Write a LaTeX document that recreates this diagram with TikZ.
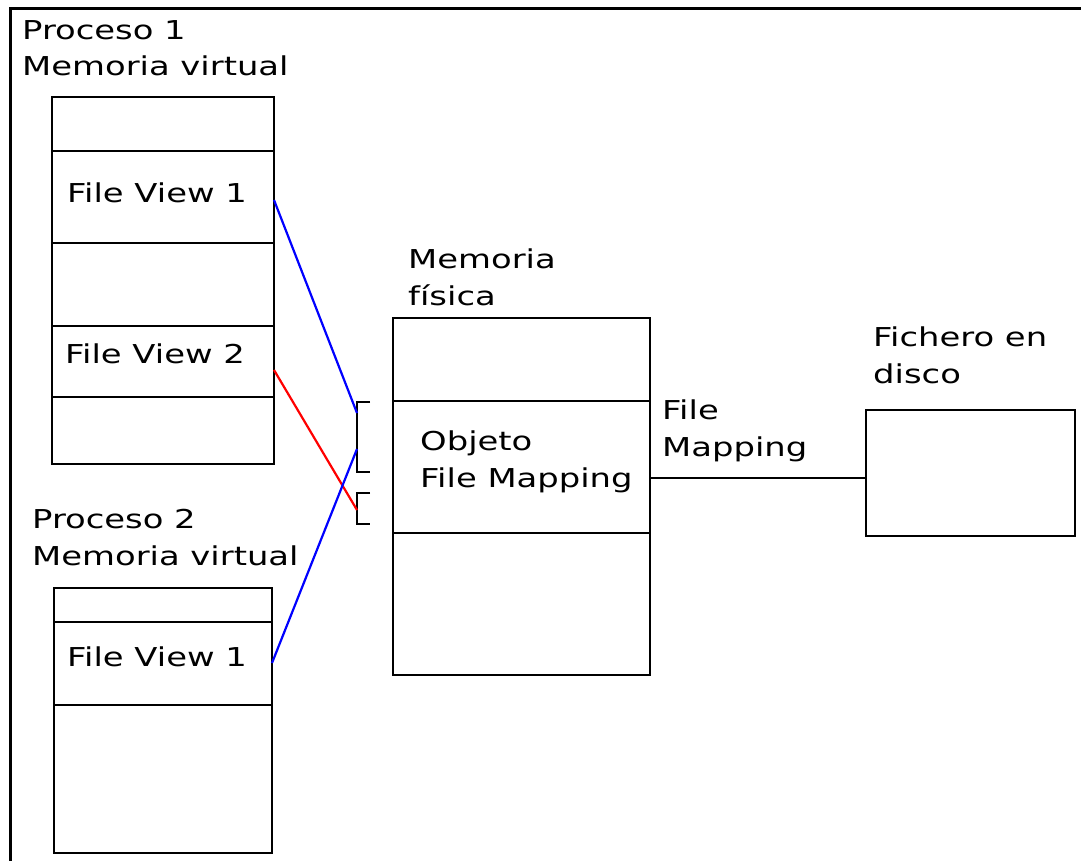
\documentclass[tikz,border=0pt]{standalone}
\usepackage{fontspec}
\setmainfont[FakeStretch=1.3]{DejaVu Sans}
\begin{document}
\begin{tikzpicture}[x=1pt,y=-1pt,
  seg/.style={draw=black,line width=2.4pt,inner sep=0pt,outer sep=0pt,anchor=north west,rectangle},
  lbl/.style={inner sep=0pt,anchor=base west,align=left,font=\fontsize{26}{36.5}\selectfont},
  link/.style={line width=2.2pt},
  brk/.style={draw=black,line width=2.4pt}]
\useasboundingbox (0,0) rectangle (1081,861);
\fill[white] (0,0) rectangle (1081,861);
% frame
\draw[line width=3pt] (10,861) -- (10,9) -- (1081,9);
% process 1 virtual memory
\node[seg,minimum width=222pt,minimum height=54pt] (p1a) at (52,97) {};
\node[seg,minimum width=222pt,minimum height=92pt] (p1v1) at (52,151) {};
\node[seg,minimum width=222pt,minimum height=83pt] (p1b) at (52,243) {};
\node[seg,minimum width=222pt,minimum height=71pt] (p1v2) at (52,326) {};
\node[seg,minimum width=222pt,minimum height=67pt] (p1c) at (52,397) {};
% process 2 virtual memory
\node[seg,minimum width=218pt,minimum height=34pt] (p2a) at (54,588) {};
\node[seg,minimum width=218pt,minimum height=83pt] (p2v1) at (54,622) {};
\node[seg,minimum width=218pt,minimum height=148pt] (p2b) at (54,705) {};
% physical memory
\node[seg,minimum width=257pt,minimum height=83pt] (pma) at (393,318) {};
\node[seg,minimum width=257pt,minimum height=132pt] (pmo) at (393,401) {};
\node[seg,minimum width=257pt,minimum height=142pt] (pmb) at (393,533) {};
% disk file
\node[seg,minimum width=209pt,minimum height=126pt] (disk) at (866,410) {};
% labels (anchor = baseline of last line)
\node[lbl] (t1) at (22,76) {Proceso 1\\Memoria virtual};
\node[lbl] (t2) at (32,565) {Proceso 2\\Memoria virtual};
\node[lbl] (t3) at (408,305) {Memoria\\física};
\node[lbl] (t4) at (873,383) {Fichero en\\disco};
\node[lbl] (t5) at (662,456) {File\\Mapping};
\node[lbl] (t6) at (420,487) {Objeto\\File Mapping};
\node[lbl] (fv1) at (67,203) {File View 1};
\node[lbl] (fv2) at (65,363) {File View 2};
\node[lbl] (fv3) at (67,666) {File View 1};
% brackets
\coordinate (b1t) at (370,402);
\coordinate (b1b) at (370,472);
\coordinate (b2t) at (370,493);
\coordinate (b2b) at (370,524);
\draw[brk] (b1t) -- ++(-13,0) |- (b1b);
\draw[brk] (b2t) -- ++(-13,0) |- (b2b);
\coordinate (e1) at (357,413);
\coordinate (e2) at (357,449);
\coordinate (e3) at (357,510);
\coordinate (s1) at (274,200);
\coordinate (s2) at (274,370);
\coordinate (s3) at (272,663);
% connectors
\draw[link,blue] (s1) -- (e1);
\draw[link,red] (s2) -- (e3);
\draw[link,blue] (s3) -- (e2);
\draw[link,black] (pmo.east |- 0,478) -- (disk.west |- 0,478);
\end{tikzpicture}
\end{document}
